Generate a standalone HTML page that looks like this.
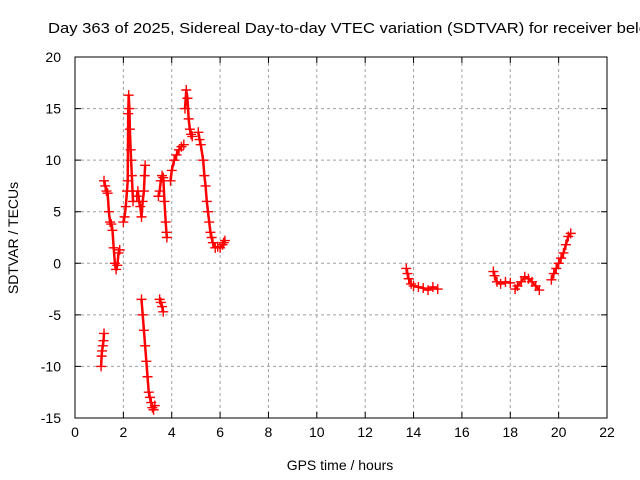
<!DOCTYPE html>
<html><head><meta charset="utf-8"><style>
body{margin:0;background:#fff;}
svg{display:block;font-family:"Liberation Sans",sans-serif;}
</style></head><body>
<svg id="chart" width="640" height="480" viewBox="0 0 640 480">
<text x="48" y="33" font-size="15" textLength="600" lengthAdjust="spacingAndGlyphs">Day 363 of 2025, Sidereal Day-to-day VTEC variation (SDTVAR) for receiver bele</text>
<g id="grid"></g><g id="axes"></g><g id="marks"></g>
<rect x="75" y="57" width="532" height="361" fill="none" stroke="#000" stroke-width="1"/>
<text x="340" y="470" font-size="14" text-anchor="middle">GPS time / hours</text>
<text x="0" y="0" font-size="14" text-anchor="middle" transform="translate(18,238) rotate(-90)">SDTVAR / TECUs</text>
</svg>
<script>
const xTicks=[0,2,4,6,8,10,12,14,16,18,20,22];
const yTicks=[-15,-10,-5,0,5,10,15,20];
const seg1=[[1.08,-10],[1.1,-9],[1.12,-8.5],[1.15,-8],[1.18,-7.5],[1.2,-6.8]];
const seg2=[[1.2,8],[1.25,7.5],[1.3,7],[1.35,6.8],[1.4,5],[1.45,4],[1.5,3.8],[1.55,3.2],[1.6,1.5],[1.65,0],[1.7,-0.6],[1.75,-0.2],[1.8,1],[1.85,1.3]];
const seg3=[[2.0,4],[2.05,4.5],[2.1,5.5],[2.15,7],[2.18,8],[2.2,14.5],[2.22,16.3],[2.25,15],[2.27,13],[2.3,11],[2.32,10],[2.35,8.5],[2.38,7],[2.4,6]];
const seg4=[[2.55,6.5],[2.6,7],[2.65,6],[2.7,5.5],[2.75,4.5],[2.8,6],[2.85,7],[2.88,8.5],[2.9,9.5]];
const seg5=[[2.75,-3.5],[2.8,-5],[2.85,-6.5],[2.9,-8],[2.95,-9.5],[3.0,-11],[3.05,-12.5],[3.1,-13],[3.15,-13.5],[3.2,-14],[3.25,-14.2],[3.3,-13.8]];
const seg6=[[3.5,-3.5],[3.55,-3.8],[3.6,-4.2],[3.65,-4.7]];
const seg7=[[3.45,6.5],[3.5,7],[3.55,8],[3.6,8.5],[3.65,8.3],[3.7,6],[3.75,4],[3.78,3],[3.8,2.5]];
const seg8=[[3.95,8],[4.0,9],[4.1,10],[4.2,10.5],[4.3,11],[4.4,11.3],[4.5,11.5]];
const seg9=[[4.55,15],[4.6,16.8],[4.65,16],[4.7,14],[4.75,13],[4.8,12.5],[4.85,12.3]];
const seg10=[[5.1,12.7],[5.15,12],[5.2,11.5],[5.3,10],[5.35,8.5],[5.4,7.5],[5.45,6],[5.5,5],[5.55,4],[5.6,3],[5.65,2.5],[5.7,2],[5.8,1.5],[5.9,1.6],[6.0,1.5],[6.1,1.8],[6.15,2],[6.2,2.2]];
const seg11=[[13.7,-0.5],[13.75,-1],[13.8,-1.5],[13.9,-2],[14.0,-2.2],[14.2,-2.3],[14.4,-2.4],[14.6,-2.6],[14.8,-2.3],[15.0,-2.5]];
const seg12=[[17.3,-0.8],[17.35,-1.2],[17.45,-1.8],[17.6,-2],[17.8,-1.8],[18.0,-1.9]];
const seg13=[[18.2,-2.5],[18.3,-2.2],[18.45,-1.8],[18.6,-1.3],[18.75,-1.5],[18.9,-1.8],[19.05,-2.2],[19.2,-2.6]];
const seg14=[[19.7,-1.6],[19.8,-1],[19.9,-0.5],[20.0,0],[20.1,0.5],[20.2,1],[20.3,1.8],[20.4,2.6],[20.5,2.9]];
const segments=[seg1,seg2,seg3,seg4,seg5,seg6,seg7,seg8,seg9,seg10,seg11,seg12,seg13,seg14];

const L=75,R=607,T=57,B=418,X0=0,X1=22,Y0=-15,Y1=20;
function sx(v){return L+(v-X0)/(X1-X0)*(R-L);}
function sy(v){return B-(v-Y0)/(Y1-Y0)*(B-T);}
const NS="http://www.w3.org/2000/svg";
function mk(tag,attrs,parent){const e=document.createElementNS(NS,tag);for(const k in attrs)e.setAttribute(k,attrs[k]);parent.appendChild(e);return e;}
const grid=document.getElementById('grid'),axes=document.getElementById('axes'),marks=document.getElementById('marks');
xTicks.forEach(t=>{
  const x=sx(t);
  if(t>X0&&t<X1){const g=mk('line',{x1:x,x2:x,y1:T,y2:B,stroke:'#a0a0a0','stroke-dasharray':'3,3'},grid);
  
  }
  const tk=mk('path',{d:`M${x},${B}v-6M${x},${T}v6`,stroke:'#000'},axes);
  
  
  const lb=mk('text',{x:x,y:B+19,'font-size':14,'text-anchor':'middle'},axes);lb.textContent=t;
  
  
});
yTicks.forEach(t=>{
  const y=sy(t);
  if(t>Y0&&t<Y1){const g=mk('line',{x1:L,x2:R,y1:y,y2:y,stroke:'#a0a0a0','stroke-dasharray':'3,3'},grid);
  
  }
  const tk=mk('path',{d:`M${L},${y}h6M${R},${y}h-6`,stroke:'#000'},axes);
  
  
  const lb=mk('text',{x:L-14,y:y+5,'font-size':14,'text-anchor':'end'},axes);lb.textContent=t;
  
  
});
segments.forEach((seg,i)=>{
  const ln=mk('path',{d:seg.map((p,j)=>(j?'L':'M')+sx(p[0])+','+sy(p[1])).join(''),stroke:'#f00','stroke-width':2.5,fill:'none','stroke-linejoin':'round'},marks);
  
  
  seg.forEach(p=>{
    const x=sx(p[0]),y=sy(p[1]);
    const m=mk('path',{d:`M${x-5},${y}h10M${x},${y-5}v10`,stroke:'#f00','stroke-width':1.4},marks);
    
    
  });
});
</script>
</body></html>
